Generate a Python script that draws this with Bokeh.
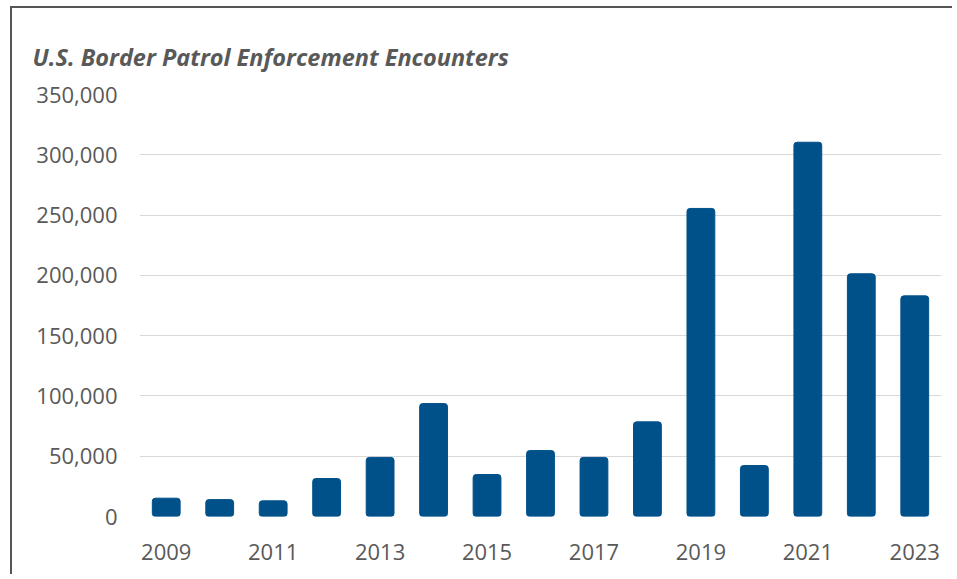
from bokeh.plotting import figure
from bokeh.models import FixedTicker, NumeralTickFormatter, Range1d, ColumnDataSource
from bokeh.embed import file_html
from bokeh.resources import INLINE

years = [2009, 2010, 2011, 2012, 2013, 2014, 2015, 2016, 2017, 2018, 2019, 2020, 2021, 2022, 2023]
encounters = [15200, 14000, 13000, 31500, 49000, 93700, 34800, 54700, 49000, 78500, 255500, 42300, 310400, 201300, 183000]
x_ticks = [2009, 2011, 2013, 2015, 2017, 2019, 2021, 2023]
y_ticks = [0, 50000, 100000, 150000, 200000, 250000, 300000, 350000]
title_text = "U.S. Border Patrol Enforcement Encounters"

src = ColumnDataSource(dict(year=years, value=encounters))

p = figure(width=942, height=568, output_backend="svg", toolbar_location=None,
           x_range=Range1d(2008.5, 2023.5), y_range=Range1d(0, 350000),
           min_border_left=127, min_border_right=13, min_border_top=86, min_border_bottom=60,
           title=title_text)
p.margin = (6, 0, 0, 10)
p.styles = {"border-left": "2px solid #555555", "border-top": "2px solid #555555"}

p.vbar(x="year", top="value", width=0.52, source=src, color="#00508a", border_radius=3)

p.title.text_font = "Open Sans"
p.title.text_font_style = "bold italic"
p.title.text_font_size = "23.5px"
p.title.text_color = "#595959"
p.title.align = "left"
p.title.offset = -107
p.title.standoff = 43

p.outline_line_color = None
p.background_fill_color = "white"
p.border_fill_color = "white"

p.xgrid.grid_line_color = None
p.ygrid.grid_line_color = "#d9d9d9"
p.ygrid.grid_line_width = 1
p.ygrid.ticker = FixedTicker(ticks=y_ticks)

p.xaxis.ticker = FixedTicker(ticks=x_ticks)
p.yaxis.ticker = FixedTicker(ticks=y_ticks)
p.yaxis.formatter = NumeralTickFormatter(format="0,0")
for ax in (p.xaxis[0], p.yaxis[0]):
    ax.axis_line_color = None
    ax.major_tick_line_color = None
    ax.minor_tick_line_color = None
    ax.major_label_text_font = "Open Sans"
    ax.major_label_text_font_size = "22px"
    ax.major_label_text_color = "#595959"
p.yaxis.major_label_standoff = 16
p.xaxis.major_label_standoff = 21

open("out.html", "w").write(file_html(p, INLINE))
